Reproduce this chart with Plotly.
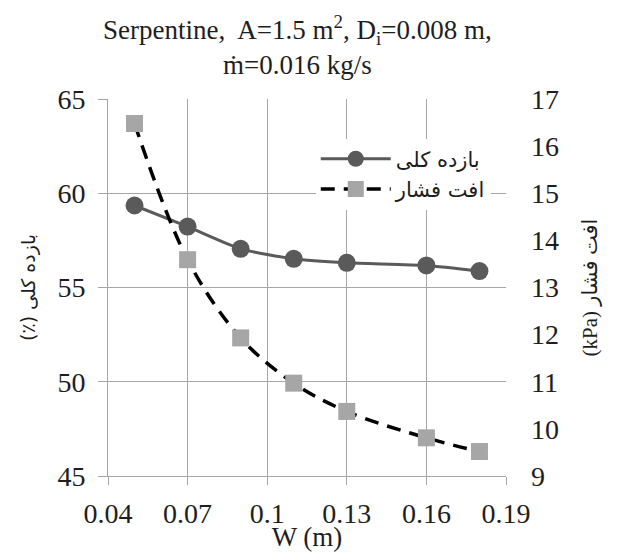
import plotly.graph_objects as go

w = [0.05, 0.07, 0.09, 0.11, 0.13, 0.16, 0.18]
efficiency = [59.35, 58.23, 57.05, 56.52, 56.31, 56.17, 55.87]
pressure_drop = [16.48, 13.59, 11.93, 10.97, 10.37, 9.81, 9.52]
x_ticks = [0.04, 0.07, 0.10, 0.13, 0.16, 0.19]
x_tick_text = ["0.04", "0.07", "0.1", "0.13", "0.16", "0.19"]

name_eff = "بازده کلی"
name_dp = "افت فشار"
title_text = "Serpentine,  A=1.5 m<sup>2</sup>, D<sub>i</sub>=0.008 m,<br>ṁ=0.016 kg/s"
y1_title = "(٪) بازده کلی"
y2_title = "(kPa) افت فشار"

SERIF = "Liberation Serif"
AR = "DejaVu Sans"
MIX = "Liberation Serif, DejaVu Sans"
TXT = "#1e1e1e"
GRID = "#a6a6a6"

fig = go.Figure()
fig.add_trace(go.Scatter(
    x=w, y=efficiency, name=name_eff, mode="lines+markers",
    line=dict(color="#5a5a5a", width=3, shape="spline", smoothing=0.6),
    marker=dict(symbol="circle", size=18, color="#5a5a5a"),
    yaxis="y"))
fig.add_trace(go.Scatter(
    x=w, y=pressure_drop, name=name_dp, mode="lines+markers",
    line=dict(color="#000000", width=3.5, dash="14px,9px", shape="spline", smoothing=1),
    marker=dict(symbol="square", size=17, color="#a6a6a6"),
    yaxis="y2"))

fig.add_annotation(
    text=title_text, xref="paper", yref="paper", x=0.475, y=1.0 + 90 / 377,
    xanchor="center", yanchor="top", showarrow=False,
    font=dict(family=SERIF, size=27, color=TXT))

fig.update_layout(
    template="none",
    width=617, height=552,
    margin=dict(l=108, r=111, t=99, b=76),
    paper_bgcolor="white", plot_bgcolor="white",
    font=dict(family=SERIF, size=27, color=TXT),
    xaxis=dict(
        range=[0.04, 0.19], tickvals=x_ticks, ticktext=x_tick_text,
        showgrid=True, gridcolor=GRID, gridwidth=1,
        showline=True, linecolor=GRID, linewidth=1,
        ticks="outside", ticklen=8, tickcolor=GRID,
        ticklabelstandoff=4, zeroline=False, automargin=False,
        tickfont=dict(family=SERIF, size=28, color=TXT),
        title=dict(text="W (m)", standoff=0,
                   font=dict(family=SERIF, size=27, color=TXT))),
    yaxis=dict(
        range=[45, 65], dtick=5, showgrid=True, gridcolor=GRID, gridwidth=1,
        showline=True, linecolor=GRID, linewidth=1,
        ticks="outside", ticklen=9, tickcolor=GRID,
        ticklabelstandoff=7, zeroline=False, automargin=False,
        tickfont=dict(family=SERIF, size=28, color=TXT),
        title=dict(text=y1_title, standoff=16,
                   font=dict(family=AR, size=19, color=TXT))),
    yaxis2=dict(
        range=[9, 17], dtick=1, overlaying="y", side="right",
        showgrid=False, showline=False, ticks="", zeroline=False,
        ticklabelstandoff=24, automargin=False,
        tickfont=dict(family=SERIF, size=28, color=TXT),
        title=dict(text=y2_title, standoff=24,
                   font=dict(family=MIX, size=21, color=TXT))),
    legend=dict(
        x=0.522, y=0.895, xanchor="left", yanchor="top",
        bgcolor="white", borderwidth=0,
        font=dict(family=AR, size=21, color=TXT),
        itemwidth=70, tracegroupgap=0),
    showlegend=True,
)

fig.write_html("out.html")
